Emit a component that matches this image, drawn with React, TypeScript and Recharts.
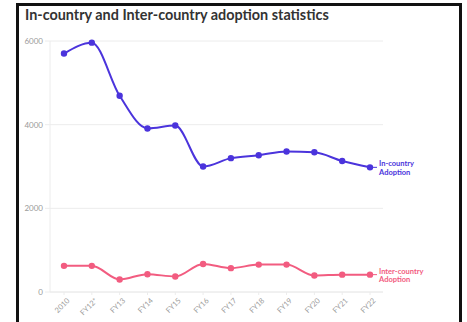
import { CartesianGrid, Line, LineChart, XAxis, YAxis } from "recharts";

const years = ["2010", "FY12*", "FY13", "FY14", "FY15", "FY16", "FY17", "FY18", "FY19", "FY20", "FY21", "FY22"];
const inCountry = [5700, 5960, 4690, 3910, 3980, 3000, 3200, 3270, 3360, 3340, 3130, 2980];
const interCountry = [625, 625, 300, 425, 370, 670, 570, 655, 655, 395, 415, 415];
const yTicks = [0, 2000, 4000, 6000];

const BLUE = "#4b34dc";
const PINK = "#f25c80";
const GRID = "#ececec";
const AXIS = "#9a9a9a";
const FONT = "Lato, 'Open Sans', sans-serif";

const data = years.map((y, i) => ({ year: y, inC: inCountry[i], interC: interCountry[i] }));

// rotated category label, its end sits just below the tick
function XTick({ x, y, payload }: any) {
  return (
    <g transform={`translate(${x + 4},${y + 2})`}>
      <text transform="rotate(-45)" textAnchor="end" dy={3} fontSize={7.5} fill={AXIS} fontFamily={FONT}>
        {payload.value}
      </text>
    </g>
  );
}

// series name drawn next to the last point only
function endLabel(color: string, first: string) {
  return (props: any) => {
    const { x, y, index } = props;
    if (index !== years.length - 1) return null;
    return (
      <g key="end">
        <line x1={x + 3} x2={x + 7} y1={y} y2={y} stroke={color} strokeWidth={1} />
        <text x={x + 9} y={y - 1} fontSize={7.5} fontWeight={700} fill={color} fontFamily={FONT}>{first}</text>
        <text x={x + 9} y={y + 7.5} fontSize={7.5} fontWeight={700} fill={color} fontFamily={FONT}>Adoption</text>
      </g>
    );
  };
}

export default function App() {
  return (
    <div style={{ position: "absolute", left: 0, top: 0, width: 467, height: 322, background: "#fff", overflow: "hidden" }}>
      <div style={{
        position: "absolute", left: 16, top: 3, width: 446, height: 340,
        border: "3px solid #111", boxSizing: "border-box",
      }} />
      <div style={{
        position: "absolute", left: 25, top: 6, fontFamily: FONT, fontWeight: 700,
        fontSize: 14.4, color: "#333", whiteSpace: "nowrap",
      }}>
        In-country and Inter-country adoption statistics
      </div>
      <div style={{ position: "absolute", left: 0, top: 0 }}>
        <LineChart width={467} height={322} data={data} margin={{ top: 41, right: 84, bottom: 0, left: 8 }}>
          <CartesianGrid stroke={GRID} vertical={false} />
          <XAxis dataKey="year" stroke={GRID} tickSize={3} height={30} tick={<XTick />} interval={0}
                 padding={{ left: 14, right: 13 }} />
          <YAxis ticks={yTicks} domain={[0, 6000]} width={42} stroke={GRID} tickSize={5} tickMargin={2}
                 tick={{ fontSize: 8, fill: AXIS, fontFamily: FONT }} />
          <Line type="monotone" dataKey="inC" stroke={BLUE} strokeWidth={2}
                dot={{ r: 2.2, fill: BLUE, stroke: BLUE }} label={endLabel(BLUE, "In-country")}
                isAnimationActive={false} />
          <Line type="monotone" dataKey="interC" stroke={PINK} strokeWidth={2}
                dot={{ r: 2.2, fill: PINK, stroke: PINK }} label={endLabel(PINK, "Inter-country")}
                isAnimationActive={false} />
        </LineChart>
      </div>
    </div>
  );
}
